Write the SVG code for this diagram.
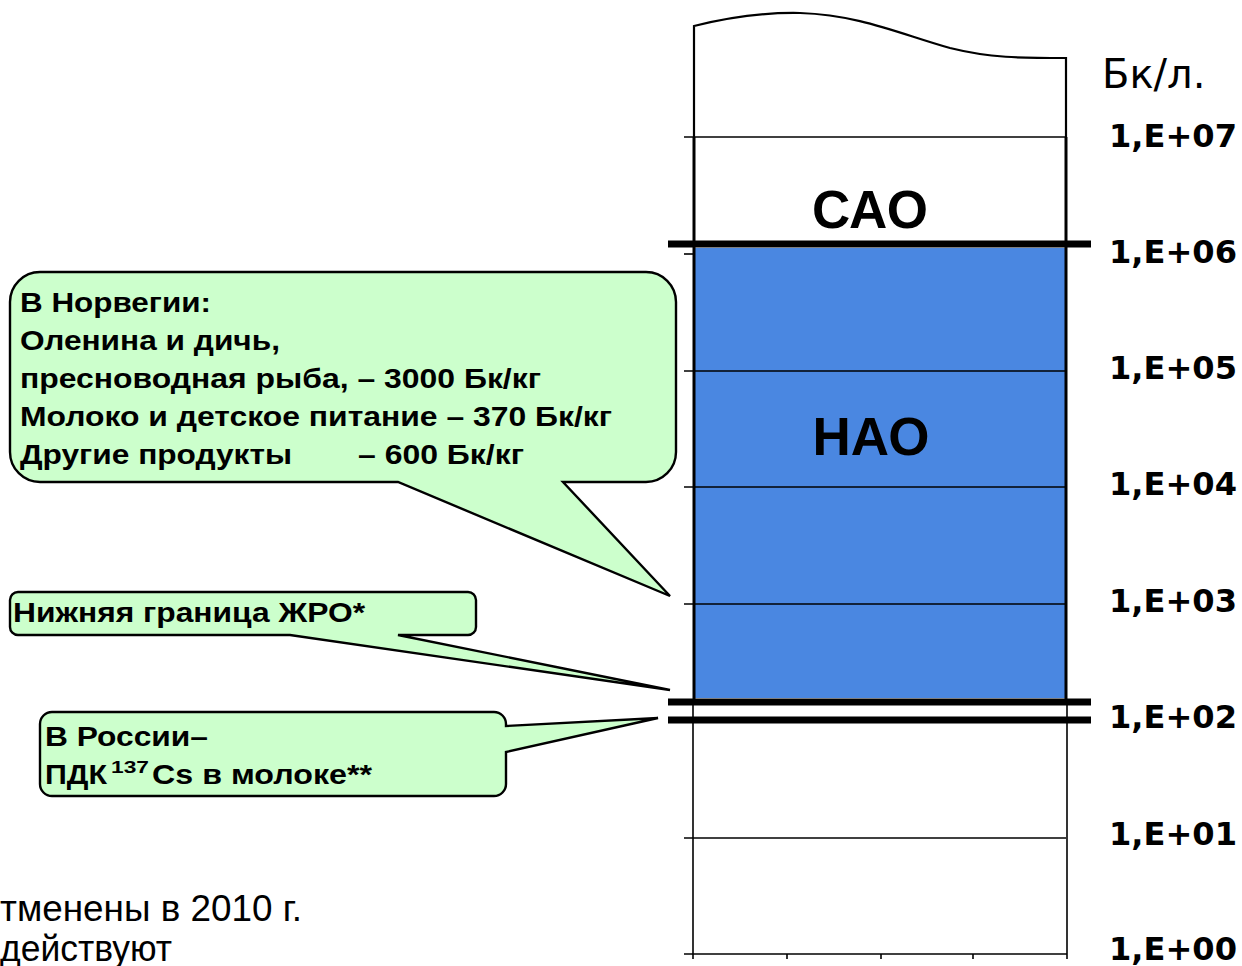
<svg xmlns="http://www.w3.org/2000/svg" width="1242" height="966" viewBox="0 0 1242 966">
<style>
.call{fill:#ccffcc;stroke:#000;stroke-width:2.4;stroke-linejoin:miter}
.ct{font-family:"Liberation Sans",Arial,sans-serif;font-weight:bold;font-size:27.5px;fill:#000}
.sup{font-family:"Liberation Sans",Arial,sans-serif;font-weight:bold;font-size:17px;fill:#000}
.ax{font-family:"DejaVu Sans",Verdana,sans-serif;font-weight:bold;font-size:32px;fill:#000}
.grid{stroke:#000;stroke-width:1.6}
.thick{stroke:#000;stroke-width:7}
.big{font-family:"Liberation Sans",Arial,sans-serif;font-weight:bold;font-size:53px;fill:#000;text-anchor:middle}
.foot{font-family:"Liberation Sans",Arial,sans-serif;font-size:37px;fill:#000}
</style>
<rect width="1242" height="966" fill="#fff"/>
<g id="chart">
  <path d="M694,137 V26 Q750,12 800,13 C860,15 900,34 950,48 C990,58 1020,58 1066,58 V137" fill="#fff" stroke="#000" stroke-width="2.2"/>
  <rect x="694" y="248" width="372" height="450" fill="#4a87e1"/>
  <line class="grid" x1="684" y1="137" x2="1066" y2="137"/>
  <line class="grid" x1="684" y1="254" x2="694" y2="254"/>
  <line class="grid" x1="684" y1="371" x2="1066" y2="371"/>
  <line class="grid" x1="684" y1="487" x2="1066" y2="487"/>
  <line class="grid" x1="684" y1="604" x2="1066" y2="604"/>
  <line class="grid" x1="684" y1="838" x2="1066" y2="838"/>
  <line class="grid" x1="684" y1="954" x2="1067" y2="954" stroke-width="2"/>
  <line stroke="#000" stroke-width="3" x1="694" y1="137" x2="694" y2="702"/>
  <line stroke="#000" stroke-width="3" x1="1066" y1="137" x2="1066" y2="702"/>
  <line class="grid" x1="693" y1="702" x2="693" y2="959"/>
  <line class="grid" x1="1067" y1="702" x2="1067" y2="959"/>
  <line class="grid" x1="787" y1="954" x2="787" y2="959"/>
  <line class="grid" x1="881" y1="954" x2="881" y2="959"/>
  <line class="grid" x1="973" y1="954" x2="973" y2="959"/>
  <line class="thick" x1="668" y1="244" x2="1091" y2="244"/>
  <line class="thick" x1="668" y1="702" x2="1091" y2="702" stroke-width="8"/>
  <line class="thick" x1="668" y1="720" x2="1091" y2="720"/>
  <text class="big" x="870" y="228">САО</text>
  <text class="big" x="871" y="455">НАО</text>
</g>
<g id="axis-labels">
  <text x="1102" y="88" font-family="DejaVu Sans,Verdana,sans-serif" font-size="40">Бк/л.</text>
  <text class="ax" x="1109" y="147" textLength="128" lengthAdjust="spacingAndGlyphs">1,E+07</text>
  <text class="ax" x="1109" y="263" textLength="128" lengthAdjust="spacingAndGlyphs">1,E+06</text>
  <text class="ax" x="1109" y="379" textLength="128" lengthAdjust="spacingAndGlyphs">1,E+05</text>
  <text class="ax" x="1109" y="495" textLength="128" lengthAdjust="spacingAndGlyphs">1,E+04</text>
  <text class="ax" x="1109" y="612" textLength="128" lengthAdjust="spacingAndGlyphs">1,E+03</text>
  <text class="ax" x="1109" y="728" textLength="128" lengthAdjust="spacingAndGlyphs">1,E+02</text>
  <text class="ax" x="1109" y="845" textLength="128" lengthAdjust="spacingAndGlyphs">1,E+01</text>
  <text class="ax" x="1109" y="960" textLength="128" lengthAdjust="spacingAndGlyphs">1,E+00</text>
</g>
<g id="callout-norway">
  <path class="call" d="M40,272 H646 A30,30 0 0 1 676,302 V452 A30,30 0 0 1 646,482 H563 L670,596 L398,482 H40 A30,30 0 0 1 10,452 V302 A30,30 0 0 1 40,272 Z"/>
  <text class="ct" x="20" y="312" textLength="191" lengthAdjust="spacingAndGlyphs">В Норвегии:</text>
  <text class="ct" x="20" y="350" textLength="260" lengthAdjust="spacingAndGlyphs">Оленина и дичь,</text>
  <text class="ct" x="20" y="388" textLength="521" lengthAdjust="spacingAndGlyphs">пресноводная рыба, – 3000 Бк/кг</text>
  <text class="ct" x="20" y="426" textLength="592" lengthAdjust="spacingAndGlyphs">Молоко и детское питание – 370 Бк/кг</text>
  <text class="ct" x="20" y="464" textLength="272" lengthAdjust="spacingAndGlyphs">Другие продукты</text>
  <text class="ct" x="358" y="464" textLength="166" lengthAdjust="spacingAndGlyphs">– 600 Бк/кг</text>
</g>
<g id="callout-zhro">
  <path class="call" d="M18,592 H468 A8,8 0 0 1 476,600 V627 A8,8 0 0 1 468,635 H398 L670,690 L290,635 H18 A8,8 0 0 1 10,627 V600 A8,8 0 0 1 18,592 Z"/>
  <text class="ct" x="13" y="622" textLength="352" lengthAdjust="spacingAndGlyphs">Нижняя граница ЖРО*</text>
</g>
<g id="callout-russia">
  <path class="call" d="M52,712 H494 A12,12 0 0 1 506,724 V726 L658,718 L506,752 V784 A12,12 0 0 1 494,796 H52 A12,12 0 0 1 40,784 V724 A12,12 0 0 1 52,712 Z"/>
  <text class="ct" x="45" y="746" textLength="163" lengthAdjust="spacingAndGlyphs">В России–</text>
  <text class="ct" x="45" y="784" textLength="62" lengthAdjust="spacingAndGlyphs">ПДК</text>
  <text class="sup" x="111" y="773" textLength="38" lengthAdjust="spacingAndGlyphs">137</text>
  <text class="ct" x="152" y="784" textLength="220" lengthAdjust="spacingAndGlyphs">Cs в молоке**</text>
</g>
<g id="footnote">
  <text class="foot" x="0" y="921" textLength="302" lengthAdjust="spacingAndGlyphs">тменены в 2010 г.</text>
  <text class="foot" x="0" y="961" textLength="172" lengthAdjust="spacingAndGlyphs">действуют</text>
</g>
</svg>
